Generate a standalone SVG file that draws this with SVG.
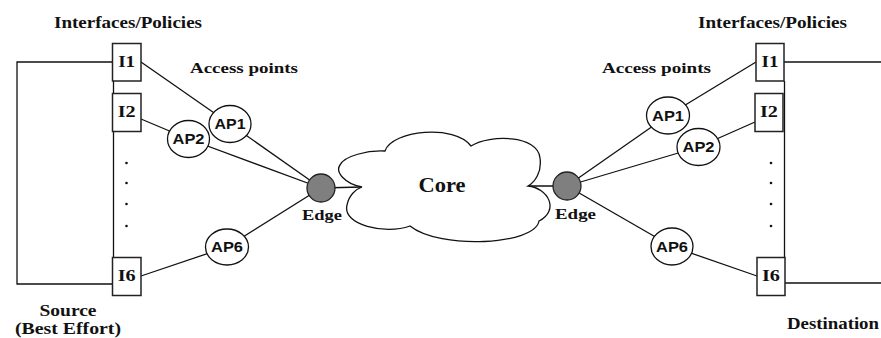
<svg xmlns="http://www.w3.org/2000/svg" width="881" height="338" viewBox="0 0 881 338">
<style>
.ln{stroke:#111;stroke-width:1.3;fill:none}
.box{fill:#fff;stroke:#222;stroke-width:1.5}
.ap{fill:#fff;stroke:#111;stroke-width:1.3}
.edge{fill:#7f7f7f;stroke:#222;stroke-width:1.3}
.dot{fill:#111}
.serif{font-family:"Liberation Serif","Times New Roman",serif;font-weight:bold;fill:#111;text-anchor:middle}
.sans{font-family:"Liberation Sans",Arial,sans-serif;font-weight:bold;fill:#111;text-anchor:middle;font-size:14px}
.lbl{font-size:16px}
.ilbl{font-size:16px}
</style>
<rect width="881" height="338" fill="#fff"/>
<g id="connectors">
  <polyline class="ln" points="112,62 17,62 17,284 112,284"/>
  <line class="ln" x1="113.5" y1="81" x2="113.5" y2="257"/>
  <line class="ln" x1="141" y1="62" x2="230" y2="124"/>
  <line class="ln" x1="141" y1="119" x2="188.5" y2="139"/>
  <line class="ln" x1="141" y1="276" x2="227" y2="247"/>
  <line class="ln" x1="230" y1="124" x2="321" y2="188"/>
  <line class="ln" x1="188.5" y1="139" x2="321" y2="188"/>
  <line class="ln" x1="227" y1="247" x2="321" y2="188"/>
  <line class="ln" x1="321" y1="188" x2="362" y2="187"/>
  <line class="ln" x1="528" y1="186" x2="567" y2="186"/>
  <line class="ln" x1="567" y1="186" x2="668" y2="115.5"/>
  <line class="ln" x1="567" y1="186" x2="698.5" y2="147"/>
  <line class="ln" x1="567" y1="186" x2="672" y2="246.5"/>
  <line class="ln" x1="668" y1="115.5" x2="756" y2="62"/>
  <line class="ln" x1="698.5" y1="147" x2="755" y2="122"/>
  <line class="ln" x1="672" y1="246.5" x2="757" y2="276"/>
  <line class="ln" x1="784.5" y1="81" x2="784.5" y2="258"/>
  <line class="ln" x1="784" y1="62" x2="881" y2="62"/>
  <line class="ln" x1="785" y1="283" x2="881" y2="283"/>
</g>
<g id="core">
  <path class="ln" style="fill:#fff" d="M 362,187 C 345,184 335,172 340,165 C 344,156 368,150 385,151 C 392,130 455,124 471,146 C 490,134 538,135 540,158 C 542,172 535,182 528,186 C 548,188 560,210 539,221 C 535,245 440,250 410,226 C 385,235 342,225 347,205 C 349,195 356,189 362,187 Z"/>
  <text class="serif" x="442" y="192" font-size="21" textLength="47" lengthAdjust="spacingAndGlyphs">Core</text>
</g>
<g id="source">
  <text class="serif lbl" x="68" y="316" textLength="57" lengthAdjust="spacingAndGlyphs">Source</text>
  <text class="serif lbl" x="68" y="334" textLength="106" lengthAdjust="spacingAndGlyphs">(Best Effort)</text>
</g>
<g id="destination">
  <text class="serif lbl" x="833" y="329" textLength="92" lengthAdjust="spacingAndGlyphs">Destination</text>
</g>
<g id="left-labels">
  <text class="serif lbl" x="128" y="28" textLength="148" lengthAdjust="spacingAndGlyphs">Interfaces/Policies</text>
  <text class="serif" x="244" y="73" font-size="15" textLength="108" lengthAdjust="spacingAndGlyphs">Access points</text>
</g>
<g id="right-labels">
  <text class="serif lbl" x="772.5" y="28" textLength="149" lengthAdjust="spacingAndGlyphs">Interfaces/Policies</text>
  <text class="serif" x="656.5" y="73" font-size="15" textLength="109" lengthAdjust="spacingAndGlyphs">Access points</text>
</g>
<g id="L-I1"><rect class="box" x="112.5" y="43.5" width="28.5" height="37.5"/><text class="serif ilbl" x="126.7" y="67" textLength="17" lengthAdjust="spacingAndGlyphs">I1</text></g>
<g id="L-I2"><rect class="box" x="112.5" y="93.5" width="28.5" height="38"/><text class="serif ilbl" x="126.7" y="117" textLength="18" lengthAdjust="spacingAndGlyphs">I2</text></g>
<g id="L-I6"><rect class="box" x="112.5" y="257.5" width="28.5" height="38"/><text class="serif ilbl" x="126.7" y="281" textLength="18" lengthAdjust="spacingAndGlyphs">I6</text></g>
<g id="L-dots"><circle class="dot" cx="126.5" cy="163" r="1.3"/><circle class="dot" cx="126.5" cy="183" r="1.3"/><circle class="dot" cx="126.5" cy="204" r="1.3"/><circle class="dot" cx="126.5" cy="226" r="1.3"/></g>
<g id="L-AP1"><ellipse class="ap" cx="230" cy="124" rx="21" ry="18.5"/><text class="sans" x="230" y="129" textLength="31" lengthAdjust="spacingAndGlyphs">AP1</text></g>
<g id="L-AP2"><ellipse class="ap" cx="188.5" cy="139" rx="21" ry="18.5"/><text class="sans" x="188.5" y="144" textLength="32" lengthAdjust="spacingAndGlyphs">AP2</text></g>
<g id="L-AP6"><ellipse class="ap" cx="227" cy="247" rx="21.5" ry="18"/><text class="sans" x="227" y="252" textLength="32" lengthAdjust="spacingAndGlyphs">AP6</text></g>
<g id="L-Edge"><circle class="edge" cx="321" cy="188" r="14"/><text class="serif" x="322" y="220" font-size="15" textLength="40" lengthAdjust="spacingAndGlyphs">Edge</text></g>
<g id="R-Edge"><circle class="edge" cx="567" cy="186" r="14"/><text class="serif" x="575.5" y="219" font-size="15" textLength="41" lengthAdjust="spacingAndGlyphs">Edge</text></g>
<g id="R-AP1"><ellipse class="ap" cx="668" cy="115.5" rx="21.5" ry="18.5"/><text class="sans" x="668" y="120.5" textLength="32" lengthAdjust="spacingAndGlyphs">AP1</text></g>
<g id="R-AP2"><ellipse class="ap" cx="698.5" cy="147" rx="21.5" ry="18.5"/><text class="sans" x="698.5" y="152" textLength="32" lengthAdjust="spacingAndGlyphs">AP2</text></g>
<g id="R-AP6"><ellipse class="ap" cx="672" cy="246.5" rx="21" ry="18.5"/><text class="sans" x="672" y="251.5" textLength="32" lengthAdjust="spacingAndGlyphs">AP6</text></g>
<g id="R-I1"><rect class="box" x="756" y="43.5" width="28" height="37.5"/><text class="serif ilbl" x="770" y="67" textLength="17" lengthAdjust="spacingAndGlyphs">I1</text></g>
<g id="R-I2"><rect class="box" x="755" y="93.5" width="28" height="38"/><text class="serif ilbl" x="769" y="117" textLength="18" lengthAdjust="spacingAndGlyphs">I2</text></g>
<g id="R-I6"><rect class="box" x="757" y="257.5" width="28" height="38"/><text class="serif ilbl" x="771" y="281" textLength="18" lengthAdjust="spacingAndGlyphs">I6</text></g>
<g id="R-dots"><circle class="dot" cx="771" cy="163" r="1.3"/><circle class="dot" cx="771" cy="183" r="1.3"/><circle class="dot" cx="771" cy="204" r="1.3"/><circle class="dot" cx="771" cy="226" r="1.3"/></g>
</svg>
